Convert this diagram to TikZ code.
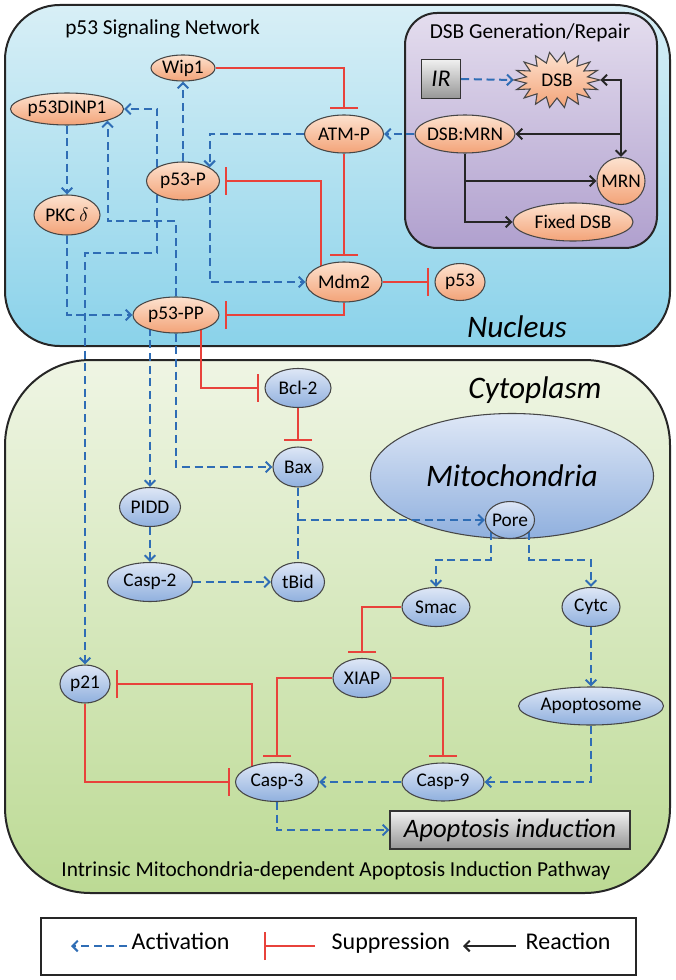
\documentclass[tikz,border=0pt]{standalone}
\usepackage{fontspec}
\setmainfont{Carlito}
\usepackage{xcolor}
\usetikzlibrary{arrows.meta,shapes.geometric}

\pgfdeclarelayer{back}
\pgfdeclarelayer{edges}
\pgfsetlayers{back,edges,main}

\definecolor{actblue}{RGB}{47,109,181}
\definecolor{inhred}{RGB}{232,66,59}
\definecolor{nodeline}{RGB}{70,70,70}
\definecolor{orTop}{RGB}{253,226,207}
\definecolor{orBot}{RGB}{243,163,120}
\definecolor{blTop}{RGB}{222,231,246}
\definecolor{blBot}{RGB}{144,176,222}
\definecolor{nucTop}{RGB}{216,239,246}
\definecolor{nucBot}{RGB}{138,210,234}
\definecolor{dsbTop}{RGB}{228,221,238}
\definecolor{dsbBot}{RGB}{176,160,206}
\definecolor{cytTop}{RGB}{239,245,228}
\definecolor{cytBot}{RGB}{188,218,148}
\definecolor{grTop}{RGB}{240,240,240}
\definecolor{grBot}{RGB}{150,150,150}

\tikzset{
  nsize/.style 2 args={minimum width=#1*0.75pt,minimum height=#2*0.75pt},
  gene/.style={ellipse,draw=nodeline,line width=0.8pt,inner sep=0pt,font=\fontsize{14.5}{17}\selectfont},
  orangenode/.style={gene,top color=orTop,bottom color=orBot},
  bluenode/.style={gene,top color=blTop,bottom color=blBot},
  greybox/.style={rectangle,draw=black!80,line width=1pt,top color=grTop,bottom color=grBot,inner sep=0pt},
  compart/.style={draw=black!85,line width=1.5pt},
  bigital/.style={font=\itshape\fontsize{23.5}{28}\selectfont,inner sep=0pt},
  plaintext/.style={font=\fontsize{16}{19}\selectfont,inner sep=0pt},
  legtext/.style={font=\fontsize{18}{21}\selectfont,anchor=west,text height=1.5ex,text depth=0.25ex},
  act/.style={draw=actblue,line width=1.5pt,dash pattern=on 6pt off 3.5pt,->},
  inh/.style={draw=inhred,line width=1.5pt,-{Bar[width=21pt]},shorten >=4pt},
  rxn/.style={draw=black!85,line width=1.5pt,->},
}

\begin{document}
\begin{tikzpicture}[x=0.75pt,y=0.75pt,yscale=-1,xscale=1,>={Straight Barb[length=4pt,width=8pt]}]
\useasboundingbox (0,0) rectangle (675,980);

%Shape: Compartments
\begin{pgfonlayer}{back}
\draw[compart,top color=nucTop,bottom color=nucBot,rounded corners=41pt] (5,5) rectangle (670,346);
\draw[compart,top color=dsbTop,bottom color=dsbBot,rounded corners=24pt] (405,13) rectangle (657,248);
\draw[compart,top color=cytTop,bottom color=cytBot,rounded corners=64pt] (5,360) rectangle (670,893);
\node[bluenode,nsize={283}{125},font=\itshape\fontsize{23.5}{28}\selectfont] (mito) at (512,476) {Mitochondria};
\end{pgfonlayer}

% Text Node
\node[plaintext,anchor=base west] (title) at (65,35) {p53 Signaling Network};
% Text Node
\node[plaintext,anchor=base] (dsbtitle) at (530,39) {DSB Generation/Repair};
% Text Node
\node[bigital,anchor=base] (nucleus) at (517,337) {Nucleus};
% Text Node
\node[bigital,anchor=base] (cyto) at (535,398) {Cytoplasm};
% Text Node
\node[plaintext,anchor=base] (pathway) at (336,876) {Intrinsic Mitochondria-dependent Apoptosis Induction Pathway};

%Shape: DSB star
\begin{scope}[shift={(557,80)}]
\draw[draw=nodeline,line width=0.8pt,top color=orTop,bottom color=orBot] (0:43 and 28)
  \foreach \a in {0,20,...,340} { -- ({\a+10}:31 and 18) -- ({\a+20}:43 and 28) } -- cycle;
\end{scope}
\node[ellipse,inner sep=0pt,nsize={86}{52},font=\fontsize{14.5}{17}\selectfont] (dsb) at (557,80) {DSB};
\node[greybox,nsize={39}{39},font=\itshape\fontsize{18}{21}\selectfont] (ir) at (441,79) {IR};

% Nucleus nodes
\node[orangenode,nsize={64}{26}] (wip) at (183,68) {Wip1};
\node[orangenode,nsize={113}{32}] (dinp) at (67,109) {p53DINP1};
\node[orangenode,nsize={79}{38}] (atmp) at (344,134) {ATM-P};
\node[orangenode,nsize={100}{38},inner xsep=-2pt] (dsbmrn) at (465,134) {DSB:MRN};
\node[orangenode,nsize={73}{38}] (p53p) at (183,181) {p53-P};
\node[orangenode,nsize={66}{40}] (pkc) at (67,215) {PKC $\delta$};
\node[orangenode,nsize={76}{40}] (mdm) at (344,282) {Mdm2};
\node[orangenode,nsize={50}{37}] (p53) at (460,282) {p53};
\node[orangenode,nsize={86}{36}] (p53pp) at (176,315) {p53-PP};
\node[orangenode,nsize={48}{47},inner xsep=-2.5pt] (mrn) at (621,181) {MRN};
\node[orangenode,nsize={120}{38}] (fdsb) at (573,222) {Fixed DSB};

% Cytoplasm nodes
\node[bluenode,nsize={66}{39}] (bcl) at (298,388) {Bcl-2};
\node[bluenode,nsize={50}{40}] (bax) at (298,467) {Bax};
\node[bluenode,nsize={61}{39}] (pidd) at (150,507) {PIDD};
\node[bluenode,nsize={85}{39}] (casp2) at (150,582) {Casp-2};
\node[bluenode,nsize={53}{39}] (tbid) at (298,582) {tBid};
\node[bluenode,nsize={49}{37},inner xsep=-1pt] (pore) at (510,520) {Pore};
\node[bluenode,nsize={68}{39}] (smac) at (436,607) {Smac};
\node[bluenode,nsize={58}{39}] (cytc) at (591,607) {Cytc};
\node[bluenode,nsize={58}{39}] (xiap) at (362,678) {XIAP};
\node[bluenode,nsize={50}{38}] (p21) at (85,684) {p21};
\node[bluenode,nsize={145}{38}] (apop) at (591,706) {Apoptosome};
\node[bluenode,nsize={83}{39}] (casp3) at (277,782) {Casp-3};
\node[bluenode,nsize={82}{38}] (casp9) at (443,782) {Casp-9};
\node[greybox,nsize={240}{38},font=\itshape\fontsize{20}{24}\selectfont] (apind) at (510,830) {Apoptosis induction};

%Shape: Legend
\node[draw=black!85,line width=1.2pt,fill=white,rectangle,nsize={595}{57}] (legend) at (338.5,946.5) {};
\node[legtext] (legact) at (127,946) {Activation};
\node[legtext] (legsup) at (327,946) {Suppression};
\node[legtext] (legrxn) at (521,946) {Reaction};
\coordinate (la) at (71,946);
\coordinate (ls) at (264,946);
\coordinate (lr) at (463,946);

\begin{pgfonlayer}{edges}
%Straight Lines: nucleus
\draw[inh] (wip.east) -| (atmp.north);
\draw[act] (atmp.west) -| (p53p.27);
\draw[act] (p53p.north) -- (wip.south);
\draw[inh] (atmp.south) -- (mdm.north);
\draw[inh] (mdm.145) |- (p53p.east);
\draw[inh] (mdm.south) |- (p53pp.east);
\draw[inh] (mdm.east) -- (p53.west);
\draw[act] (p53p.-27) |- (mdm.west);
\draw[act] (p53p.151) |- (dinp.east);
\draw[act] (p53p.209) -- ++(0,58) -| (p21.north);
\draw[act] (p53pp.north) -- ++(0,-75) -| (dinp.344);
\draw[act] (dinp.south) -- (pkc.north);
\draw[act] (pkc.south) |- (p53pp.west);
\draw[act] (dsbmrn.west) -- (atmp.east);
%Straight Lines: DSB generation/repair
\draw[act] (ir.east) -- (dsb.west);
\draw[rxn,<->] (dsb.east) -| (mrn.north);
\draw[rxn] (mrn.north |- dsbmrn.east) -- (dsbmrn.east);
\draw[rxn] (dsbmrn.south) |- (mrn.west);
\draw[rxn] (dsbmrn.south) |- (fdsb.west);
%Straight Lines: cytoplasm
\draw[inh] (p53pp.328) |- (bcl.west);
\draw[act] (p53pp.south) |- (bax.west);
\draw[act] (pidd.north |- p53pp.center) -- (pidd.north);
\draw[inh] (bcl.south) -- (bax.north);
\draw[act,-] (bax.south) -- (tbid.north);
\draw[act] (bax.south |- pore.west) -- (pore.west);
\draw[act] (pidd.south) -- (casp2.north);
\draw[act] (casp2.east) -- (tbid.west);
\draw[act] (pore.212) -- ++(0,28) -| (smac.north);
\draw[act] (pore.328) -- ++(0,28) -| (cytc.north);
\draw[inh] (smac.west) -| (xiap.north);
\draw[inh] (xiap.west) -| (casp3.north);
\draw[inh] (xiap.east) -| (casp9.north);
\draw[act] (cytc.south) -- (apop.north);
\draw[act] (apop.south) |- (casp9.east);
\draw[act] (casp9.west) -- (casp3.east);
\draw[act] (casp3.south) |- (apind.west);
\draw[inh] (casp3.148) |- (p21.east);
\draw[inh] (p21.south) |- (casp3.west);
\end{pgfonlayer}

%Straight Lines: legend samples
\draw[act] (legact.west) -- (la);
\draw[inh,shorten >=0pt,shorten <=9pt] (legsup.west) -- (ls);
\draw[rxn,shorten <=4pt] (legrxn.west) -- (lr);

\end{tikzpicture}
\end{document}
